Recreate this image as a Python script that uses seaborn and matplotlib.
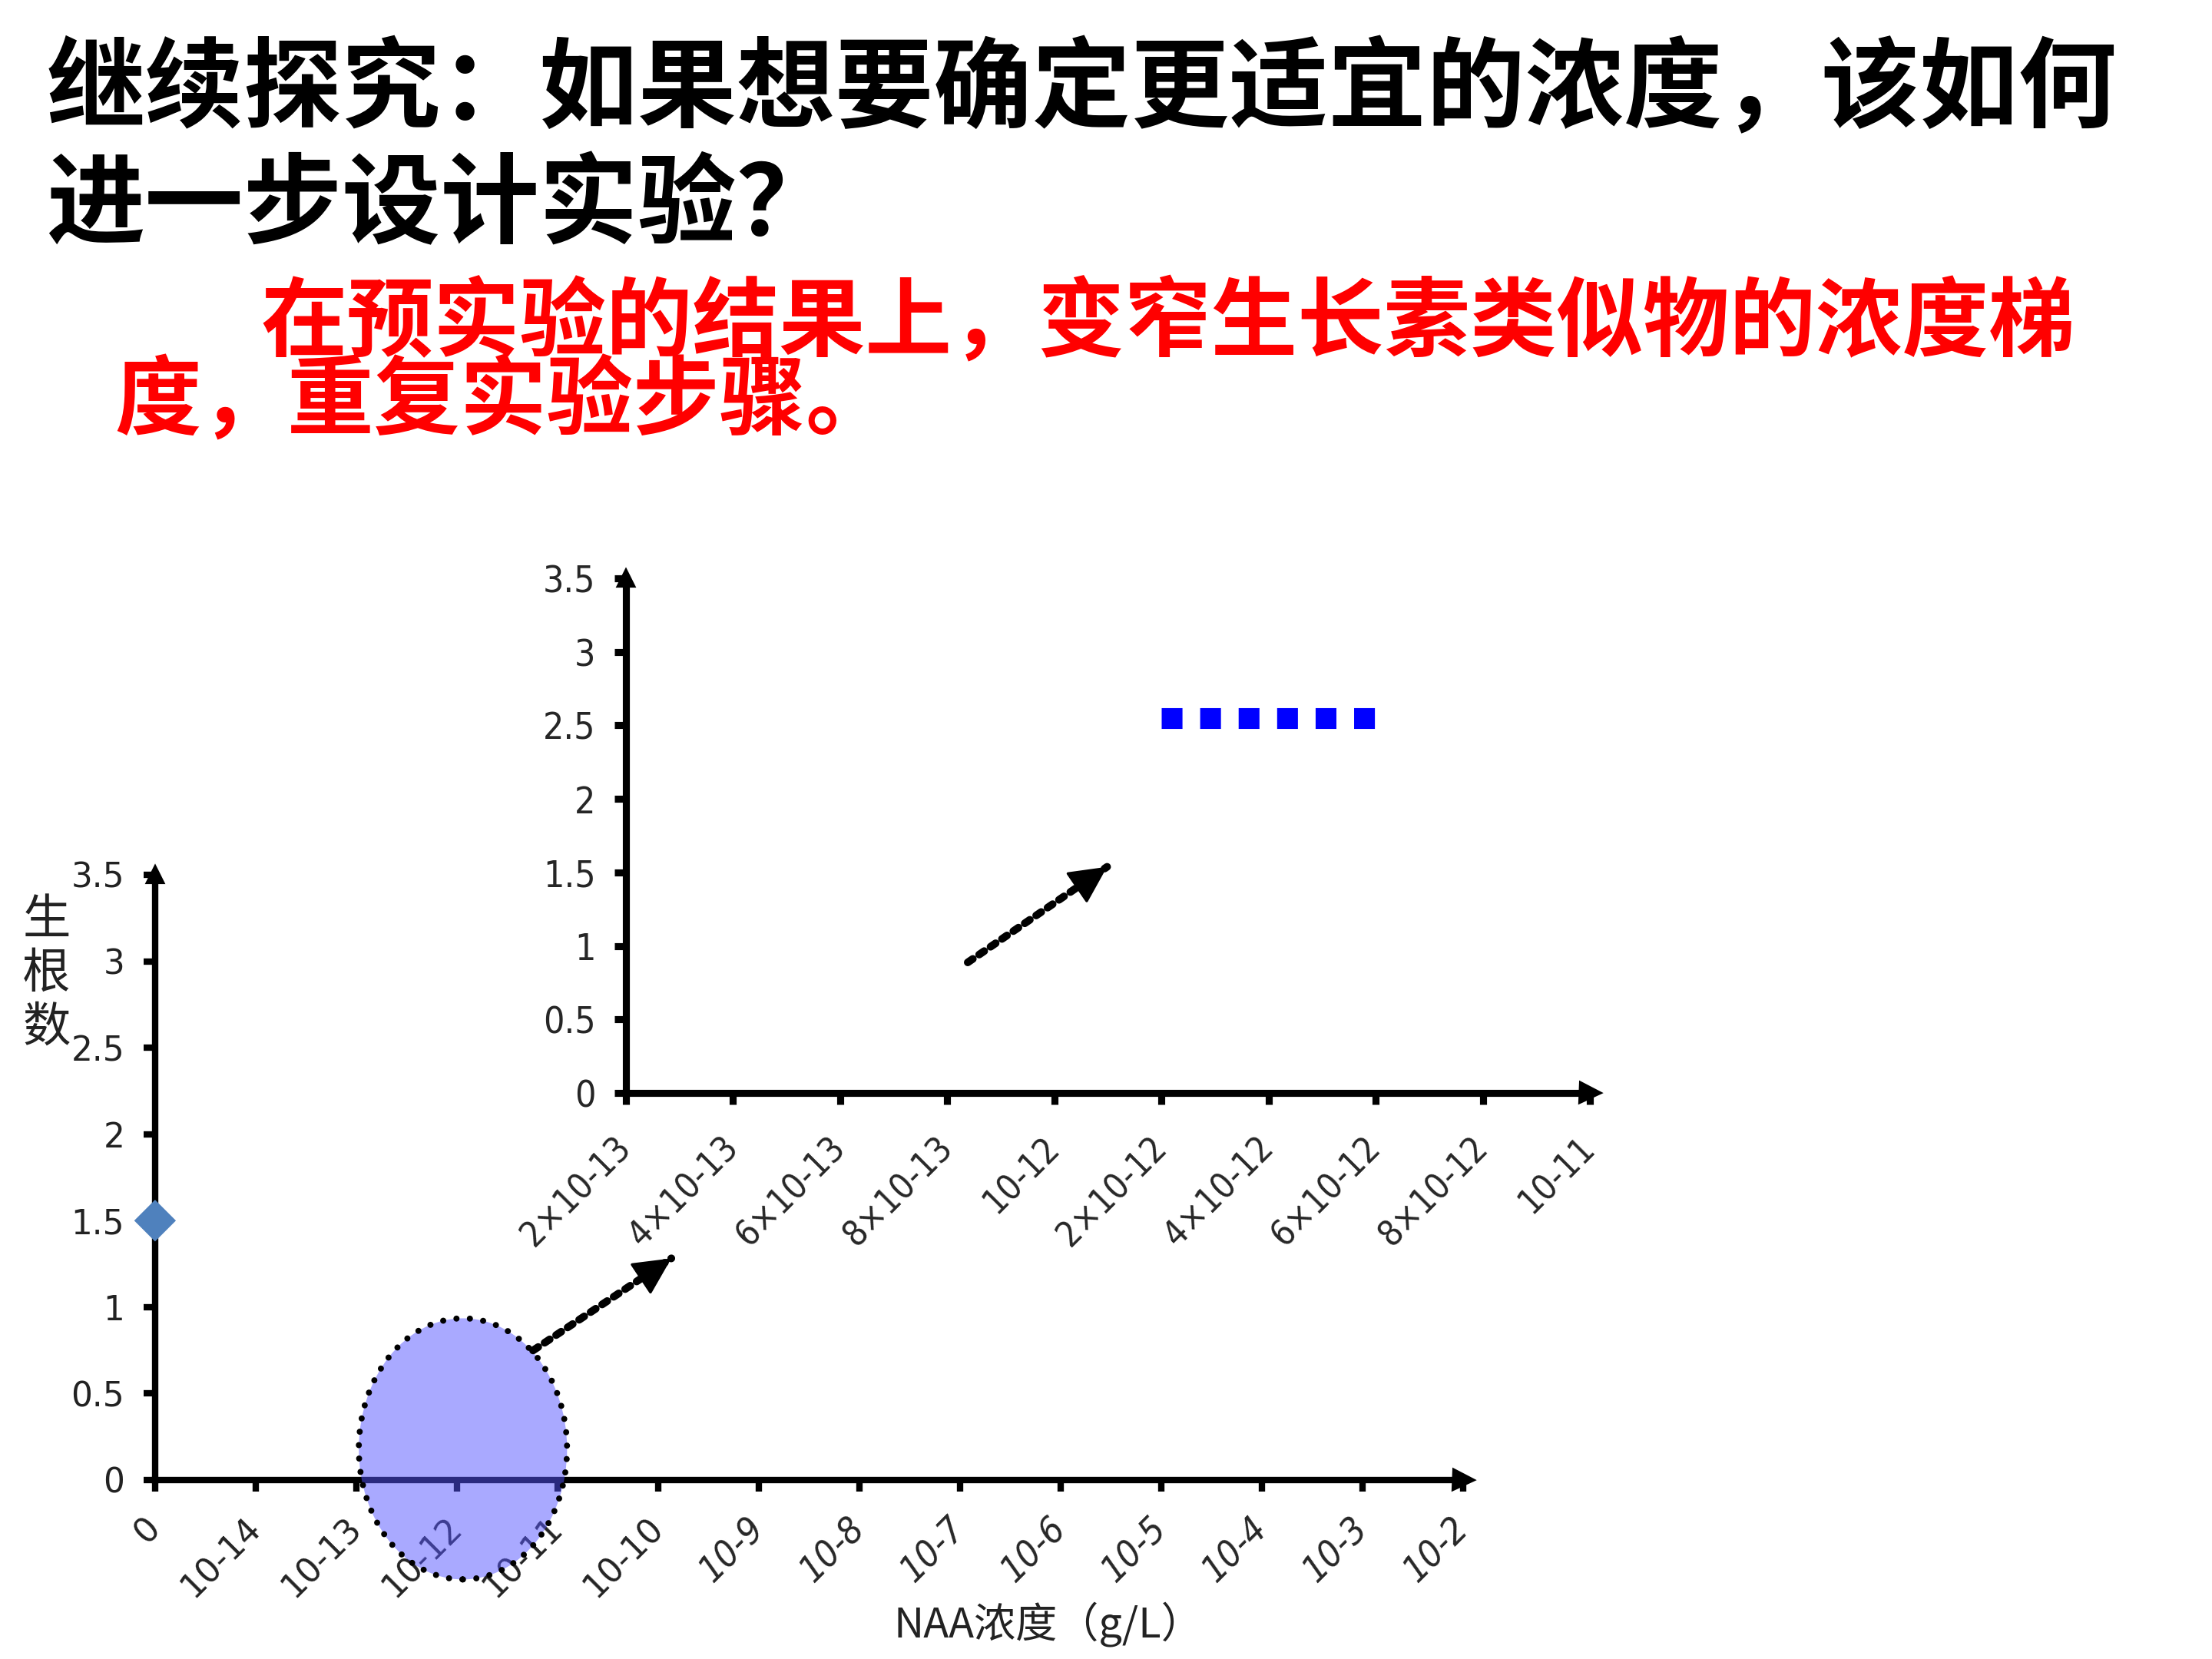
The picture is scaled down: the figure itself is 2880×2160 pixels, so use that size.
import numpy as np
import matplotlib
matplotlib.use('Agg')
import matplotlib.pyplot as plt
from matplotlib.patches import Ellipse, FancyArrowPatch
from matplotlib.ticker import FuncFormatter
import seaborn as sns

# Text of the slide
title_lines = ['继续探究：如果想要确定更适宜的浓度，该如何', '进一步设计实验？']
answer_lines = ['在预实验的结果上，变窄生长素类似物的浓度梯', '度，重复实验步骤。']

# Main chart (pre-experiment)
main_categories = ['0', '10-14', '10-13', '10-12', '10-11', '10-10', '10-9',
                   '10-8', '10-7', '10-6', '10-5', '10-4', '10-3', '10-2']
main_x = ['0']
main_y = [1.5]
y_ticks = [0, 0.5, 1, 1.5, 2, 2.5, 3, 3.5]
main_ylabel = '生\n根\n数'
main_xlabel = 'NAA浓度（g/L）'

# Highlighted range on the main chart
highlight_category = '10-12'
highlight_y = 0.18

# Inset chart (narrowed gradient)
inset_categories = ['2×10-13', '4×10-13', '6×10-13', '8×10-13', '10-12',
                    '2×10-12', '4×10-12', '6×10-12', '8×10-12', '10-11']
inset_x = ['2×10-12', '4×10-12', '6×10-12']
inset_y = [2.55, 2.55, 2.55]

sns.set_style('white')
plt.rcParams['font.family'] = ['DejaVu Sans', 'Noto Sans CJK SC']

CJK = ['Noto Sans CJK SC', 'DejaVu Sans']

fig = plt.figure(figsize=(9.6, 7.2), dpi=300)

# ---- title text ----
fig.text(0.021, 0.945, title_lines[0], family=CJK, weight='bold', fontsize=30.8,
         color='black', va='center', ha='left')
fig.text(0.021, 0.875, title_lines[1], family=CJK, weight='bold', fontsize=30.8,
         color='black', va='center', ha='left')
fig.text(0.118, 0.805, answer_lines[0], family=CJK, weight='bold', fontsize=27,
         color='#FF0000', va='center', ha='left')
fig.text(0.052, 0.757, answer_lines[1], family=CJK, weight='bold', fontsize=27,
         color='#FF0000', va='center', ha='left')


def style_axes(ax, lw):
    for side in ['top', 'right']:
        ax.spines[side].set_visible(False)
    for side in ['left', 'bottom']:
        ax.spines[side].set_linewidth(lw)
        ax.spines[side].set_color('black')
    ax.tick_params(axis='both', direction='out', length=3.5, width=lw,
                   color='black', bottom=True, left=True)
    ax.set_facecolor('none')
    # arrow heads at the axis ends
    ax.plot(1, 0, marker='>', color='k', ms=6, transform=ax.get_yaxis_transform(),
            clip_on=False)
    ax.plot(0, 1, marker='^', color='k', ms=5, transform=ax.get_xaxis_transform(),
            clip_on=False)


def narrow(lab, size, italic=False):
    lab.set_family('DejaVu Sans')
    lab.set_stretch('condensed')
    lab.set_fontsize(size)
    if italic:
        lab.set_style('italic')


def dotted_arrow(start, end):
    # dotted shaft plus a solid head
    fig.add_artist(FancyArrowPatch(start, end, transform=fig.transFigure,
                                   arrowstyle='-', color='black', lw=2.4,
                                   linestyle=(0, (0.8, 1.0)), shrinkA=0, shrinkB=0))
    sx = end[0] - (end[0] - start[0]) * 0.25
    sy = end[1] - (end[1] - start[1]) * 0.25
    fig.add_artist(FancyArrowPatch((sx, sy), end, transform=fig.transFigure,
                                   arrowstyle='-|>', color='black', lw=0.8,
                                   mutation_scale=26, shrinkA=0, shrinkB=0))


# ---- main chart ----
ax = fig.add_axes([0.0701, 0.1079, 0.5913, 0.3648])
main_pos = [main_categories.index(c) for c in main_x]
sns.scatterplot(x=main_pos, y=main_y, marker='D', s=85, color='#4F81BD',
                edgecolor='none', ax=ax, clip_on=False, zorder=6)
ax.set_xlim(0, len(main_categories) - 1)
ax.set_ylim(0, 3.5)
style_axes(ax, 2.0)
ax.set_xticks(range(len(main_categories)))
ax.set_xticklabels(main_categories)
ax.set_yticks(y_ticks)
ax.yaxis.set_major_formatter(FuncFormatter(lambda v, p: f'{v:g}'))
for lab in ax.get_yticklabels():
    lab.set_fontsize(10.5)
    lab.set_color('#222222')
for i, lab in enumerate(ax.get_xticklabels()):
    lab.set_rotation(45)
    lab.set_ha('right')
    lab.set_va('center')
    lab.set_rotation_mode('anchor')
    if i <= 5:
        lab.set_fontsize(10.5)
        lab.set_color('#222222')
    else:
        narrow(lab, 11.5, italic=True)
ax.tick_params(axis='x', pad=10)
ax.tick_params(axis='y', pad=6)
ax.set_xlabel('')
ax.set_ylabel('')

fig.text(0.021, 0.413, main_ylabel, family=CJK, fontsize=15, color='#222222',
         va='center', ha='center', linespacing=1.12)
fig.text(0.474, 0.021, main_xlabel, family=CJK, stretch='condensed',
         fontsize=13, color='#222222', va='center', ha='center')

hx = main_categories.index(highlight_category) + 0.06
ell = Ellipse((hx, highlight_y), width=2.07, height=1.51, facecolor='#5555FF',
              alpha=0.5, edgecolor='none', clip_on=False, zorder=10)
ax.add_patch(ell)
ell_edge = Ellipse((hx, highlight_y), width=2.07, height=1.51, facecolor='none',
                   edgecolor='black', lw=1.9, linestyle=(0, (0.01, 2.2)),
                   clip_on=False, zorder=11)
ell_edge.set_capstyle('round')
ax.add_patch(ell_edge)

# ---- inset chart ----
ax2 = fig.add_axes([0.283, 0.3412, 0.4358, 0.3102])
inset_pos = [inset_categories.index(c) for c in inset_x]
sns.lineplot(x=inset_pos, y=inset_y, ax=ax2, color='#0000FF', lw=6.5,
             linestyle=(0, (1.0, 0.85)), dash_capstyle='butt')
ax2.set_xlim(0, len(inset_categories) - 1)
ax2.set_ylim(0, 3.5)
style_axes(ax2, 2.2)
ax2.set_xticks(range(len(inset_categories)))
ax2.set_xticklabels(inset_categories)
ax2.set_yticks(y_ticks)
ax2.yaxis.set_major_formatter(FuncFormatter(lambda v, p: f'{v:g}'))
for lab in ax2.get_yticklabels():
    narrow(lab, 11.5)
for lab in ax2.get_xticklabels():
    narrow(lab, 11)
    lab.set_rotation(45)
    lab.set_ha('right')
    lab.set_va('center')
    lab.set_rotation_mode('anchor')
ax2.tick_params(axis='x', pad=12)
ax2.tick_params(axis='y', pad=6)
ax2.set_xlabel('')
ax2.set_ylabel('')

# ---- dotted pointer arrows ----
dotted_arrow((0.241, 0.186), (0.3035, 0.2415))
dotted_arrow((0.4375, 0.4199), (0.5005, 0.4775))

fig.savefig('out.png', dpi=300)
